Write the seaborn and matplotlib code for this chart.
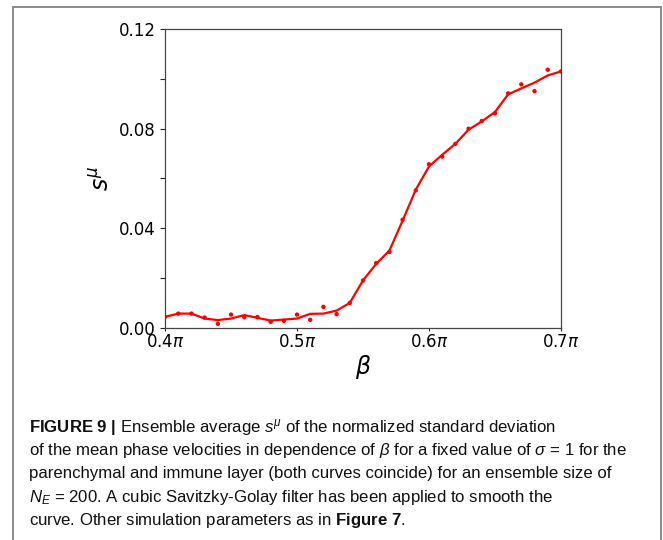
import numpy as np
import pandas as pd
import matplotlib
matplotlib.use('Agg')
import matplotlib.pyplot as plt
from matplotlib.lines import Line2D
import seaborn as sns

# beta in units of pi, raw ensemble values (dots) and smoothed curve
beta = [0.40, 0.41, 0.42, 0.43, 0.44, 0.45, 0.46, 0.47, 0.48, 0.49, 0.50,
        0.51, 0.52, 0.53, 0.54, 0.55, 0.56, 0.57, 0.58, 0.59, 0.60,
        0.61, 0.62, 0.63, 0.64, 0.65, 0.66, 0.67, 0.68, 0.69, 0.70]
s_raw = [0.0044, 0.0057, 0.0057, 0.0041, 0.0016, 0.0053, 0.0043, 0.0043, 0.0024, 0.0028, 0.0053,
         0.0032, 0.0084, 0.0055, 0.0100, 0.0190, 0.0260, 0.0305, 0.0434, 0.0552, 0.0657,
         0.0688, 0.0739, 0.0800, 0.0831, 0.0862, 0.0942, 0.0978, 0.0951, 0.1037, 0.1030]
s_smooth = [0.0044, 0.0057, 0.0057, 0.0037, 0.0031, 0.0037, 0.0051, 0.0040, 0.0029, 0.0033, 0.0037,
            0.0056, 0.0057, 0.0069, 0.0100, 0.0190, 0.0257, 0.0310, 0.0430, 0.0555, 0.0648,
            0.0695, 0.0739, 0.0796, 0.0829, 0.0867, 0.0938, 0.0962, 0.0985, 0.1014, 0.1030]

xticks = [0.4, 0.5, 0.6, 0.7]
xticklabels = [r'0.4$\pi$', r'0.5$\pi$', r'0.6$\pi$', r'0.7$\pi$']
yticks = [0.0, 0.02, 0.04, 0.06, 0.08, 0.10, 0.12]
yticklabels = ['0.00', '', '0.04', '', '0.08', '', '0.12']

caption = [
    r'$\mathbf{FIGURE\ 9\ |}$ Ensemble average $s^{\mu}$ of the normalized standard deviation',
    r'of the mean phase velocities in dependence of $\beta$ for a fixed value of $\sigma$ = 1 for the',
    r'parenchymal and immune layer (both curves coincide) for an ensemble size of',
    r'$N_E$ = 200. A cubic Savitzky-Golay filter has been applied to smooth the',
    r'curve. Other simulation parameters as in $\mathbf{Figure\ 7}$.',
]

df = pd.DataFrame({'beta': beta, 'raw': s_raw, 'smooth': s_smooth})

sns.set_style('ticks')
plt.rcParams['mathtext.fontset'] = 'custom'
plt.rcParams['mathtext.rm'] = 'Liberation Sans'
plt.rcParams['mathtext.it'] = 'Liberation Sans:italic'
plt.rcParams['mathtext.bf'] = 'Liberation Sans:bold'

fig = plt.figure(figsize=(6.63, 5.4), dpi=100)
ax = fig.add_axes([0.249, 0.393, 0.597, 0.553])

sns.lineplot(data=df, x='beta', y='smooth', color='red', linewidth=1.6, ax=ax)
sns.scatterplot(data=df, x='beta', y='raw', color='red', s=10, edgecolor='none', ax=ax)

ax.set_xlim(0.4, 0.7)
ax.set_ylim(0, 0.12)
ax.set_xticks(xticks)
ax.set_xticklabels(xticklabels, fontsize=12, math_fontfamily='dejavusans', color='black')
ax.set_yticks(yticks)
ax.set_yticklabels(yticklabels, fontsize=12, color='black')
ax.tick_params(axis='x', length=2, pad=1.5)
ax.tick_params(axis='y', length=3.5, pad=3)
ax.set_xlabel(r'$\beta$', fontsize=17, math_fontfamily='dejavusans', labelpad=2, color='black')
ax.set_ylabel(r'$s^{\mu}$', fontsize=17, math_fontfamily='dejavusans', labelpad=4, color='black')
for sp in ax.spines.values():
    sp.set_color('#444444')
    sp.set_linewidth(0.9)

# caption below the chart
y0 = 432
for i, line in enumerate(caption):
    fig.text(29 / 663, 1 - (y0 + i * 23.2) / 540, line, fontsize=12.1,
             family='Liberation Sans', color='#111111', va='baseline',
             math_fontfamily='custom')

# frame around the figure panel
W, H = 663, 540
frame_kw = dict(color='#8a8a8a', linewidth=1.4)
fig.add_artist(Line2D([13 / W, 661 / W], [1 - 6.5 / H, 1 - 6.5 / H], **frame_kw))
fig.add_artist(Line2D([13 / W, 13 / W], [0, 1 - 6.5 / H], **frame_kw))
fig.add_artist(Line2D([661 / W, 661 / W], [0, 1 - 6.5 / H], **frame_kw))

fig.savefig('out.png', dpi=100)
